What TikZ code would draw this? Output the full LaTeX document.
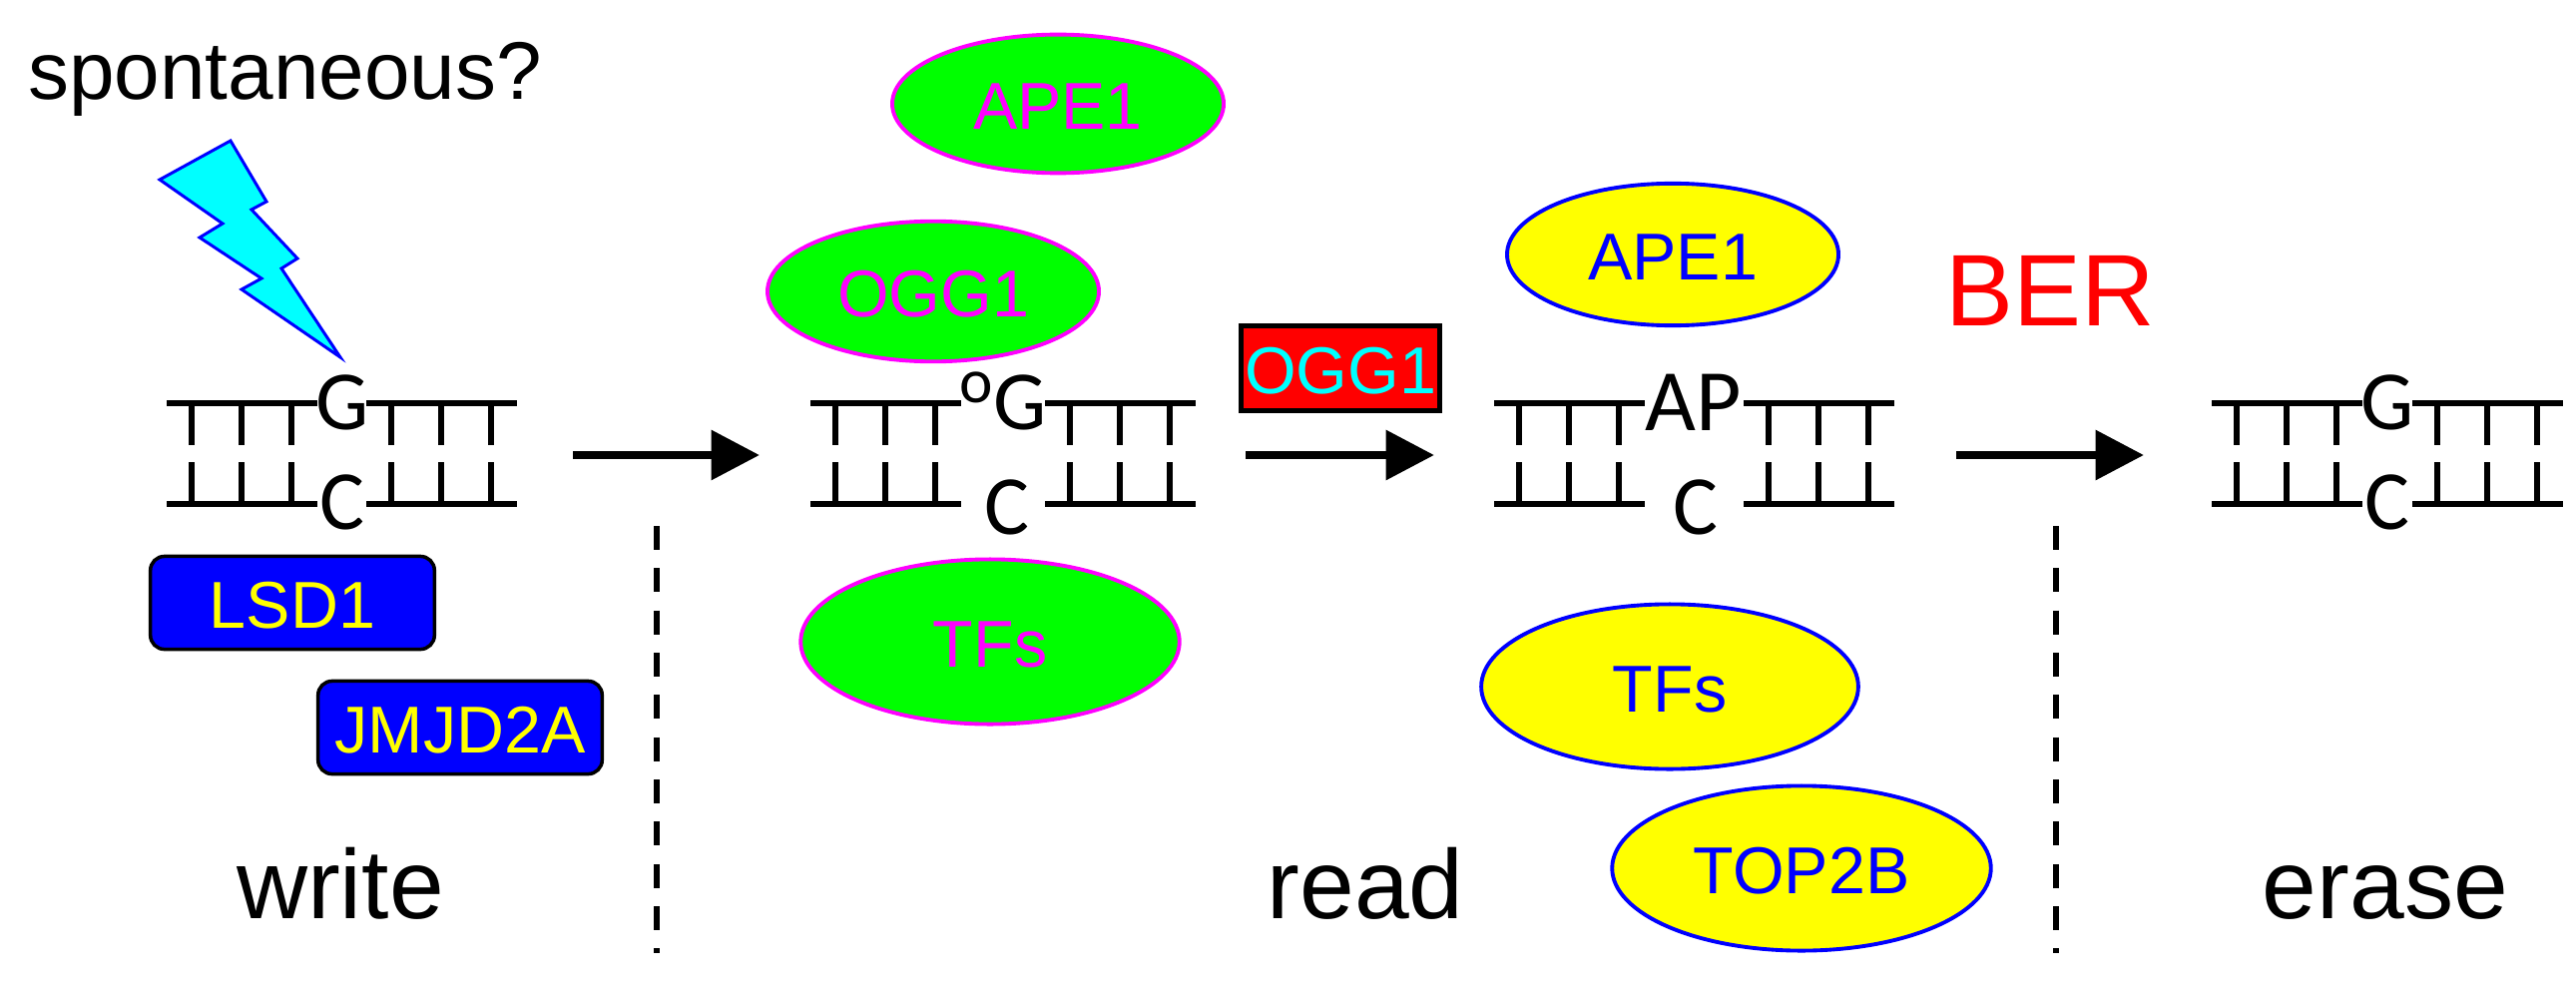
\documentclass[tikz,border=0pt]{standalone}
\usepackage{fontspec}
\setmainfont{Liberation Sans}
\newfontfamily\basefont{Carlito}
\usetikzlibrary{arrows.meta,shapes.geometric}

\definecolor{purecyan}{RGB}{0,255,255}
\definecolor{puremagenta}{RGB}{255,0,255}
\definecolor{pureyellow}{RGB}{255,255,0}
\definecolor{puregreen}{RGB}{0,255,0}
\definecolor{pureblue}{RGB}{0,0,255}
\definecolor{purered}{RGB}{255,0,0}

\tikzset{
	strand/.style={line width=3.4pt},
	rung/.style={line width=3.4pt},
	stepline/.style={line width=4.7pt,-{Triangle[length=27.5pt,width=27.5pt]}},
	divider/.style={line width=3.4pt,dash pattern=on 13.7pt off 10.4pt},
	bolt/.style={draw=pureblue,fill=purecyan,line width=1.7pt},
	bigtext/.style={inner sep=0pt,anchor=base,font=\fontsize{56}{60}\selectfont},
	protein/.style={inner sep=0pt,text height=29pt,font=\fontsize{37.8}{40}\selectfont},
	greenread/.style={protein,ellipse,draw=puremagenta,fill=puregreen,text=puremagenta,line width=2.2pt},
	yellowread/.style={protein,ellipse,draw=pureblue,fill=pureyellow,text=pureblue,line width=2.2pt},
	writer/.style={protein,draw=black,fill=pureblue,text=pureyellow,rounded corners=8pt,line width=2pt,minimum width=162pt,minimum height=53pt},
	base/.style={inner sep=0pt,font=\basefont\fontsize{48}{50}\selectfont},
}

\begin{document}
\begin{tikzpicture}[x=0.02cm,y=-0.02cm]
	\useasboundingbox (0,0) rectangle (2581,993);
	% duplex strands, with the three rungs on each piece
	\foreach \x in {167,367,812,1047,1497,1747,2216,2417}{
		\draw[strand] (\x,404) -- ++(151,0);
		\draw[strand] (\x,505) -- ++(151,0);
		\foreach \r in {25,75,125}{
			\draw[rung] (\x+\r,404) -- (\x+\r,446);
			\draw[rung] (\x+\r,463) -- (\x+\r,505);
		}
	}
	% bases
	\node[base] (g1) at (343,403) {G};
	\node[base] (c1) at (343,503) {C};
	\node[base,font=\basefont\fontsize{36}{40}\selectfont] (o2) at (978,388) {o};
	\node[base] (g2) at (1022,403) {G};
	\node[base] (c2) at (1009,508) {C};
	\node[base,font=\basefont\fontsize{50}{50}\selectfont] (ap3) at (1697,403) {AP};
	\node[base] (c3) at (1699,508) {C};
	\node[base] (g4) at (2392,403) {G};
	\node[base] (c4) at (2392,503) {C};
	% damage
	\node[inner sep=0pt,anchor=base west,font=\fontsize{46.6}{50}\selectfont] (spont) at (28,100) {spontaneous?};
	\draw[bolt] (231,141) -- (160,180) -- (223,224) -- (200,238) -- (262,279) -- (242,290) -- (341,358)
		-- (282,269) -- (298,259) -- (252,210) -- (267,202) -- cycle;
	% writers
	\node[writer] (lsd) at (293,604) {LSD1};
	\node[writer] (jmjd) at (461,729) {JMJD2A};
	% readers on the oxidised base
	\node[greenread,minimum width=189pt,minimum height=79pt] (ape2) at (1060,104) {APE1};
	\node[greenread,minimum width=189pt,minimum height=80pt] (ogg2) at (935,292) {OGG1};
	\node[greenread,minimum width=216pt,minimum height=94pt] (tf2) at (992,643) {TFs};
	% readers on the AP site
	\node[yellowread,minimum width=189pt,minimum height=81pt] (ape3) at (1676,255) {APE1};
	\node[yellowread,minimum width=215pt,minimum height=94pt] (tf3) at (1673,688) {TFs};
	\node[yellowread,minimum width=216pt,minimum height=94pt] (top3) at (1805,870) {TOP2B};
	% enzyme over the second arrow
	\node[protein,draw=black,fill=purered,text=purecyan,line width=2.8pt,minimum width=113pt,minimum height=48pt] (ogg3) at (1343,369) {OGG1};
	\node[inner sep=0pt,anchor=base,text=purered,font=\fontsize{58}{60}\selectfont] (ber) at (2054,326) {BER};
	% arrows
	\coordinate (s1) at (574,456);
	\coordinate (e1) at (761,456);
	\coordinate (s2) at (1248,456);
	\coordinate (e2) at (1437,456);
	\coordinate (s3) at (1960,456);
	\coordinate (e3) at (2148,456);
	\draw[stepline] (s1) -- (e1);
	\draw[stepline] (s2) -- (e2);
	\draw[stepline] (s3) -- (e3);
	% dividers
	\coordinate (d1) at (658,527);
	\coordinate (d1b) at (658,955);
	\coordinate (d2) at (2060,527);
	\coordinate (d2b) at (2060,955);
	\draw[divider] (d1) -- (d1b);
	\draw[divider] (d2) -- (d2b);
	% stage labels
	\node[bigtext] (write) at (341,920) {write};
	\node[bigtext] (read) at (1368,920) {read};
	\node[bigtext] (erase) at (2390,920) {erase};
\end{tikzpicture}
\end{document}
